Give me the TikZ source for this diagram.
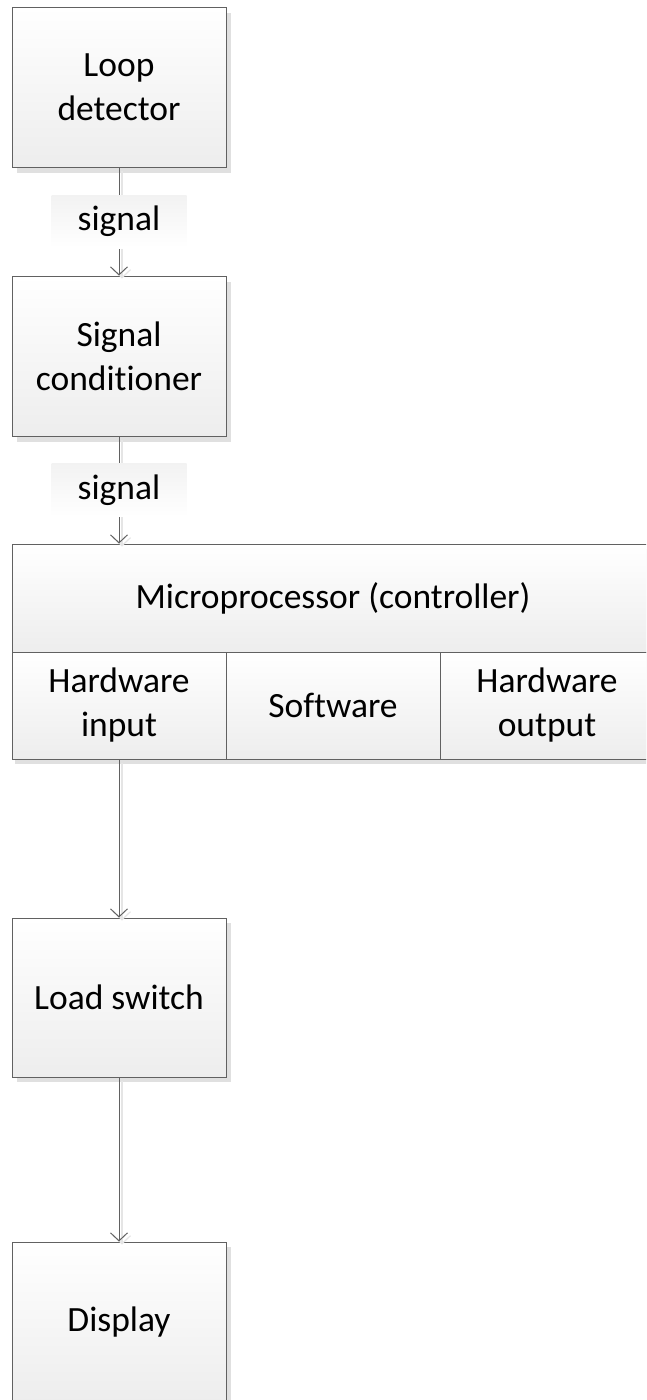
\documentclass[tikz,border=0pt]{standalone}
\usepackage{fontspec}
\setmainfont[RawFeature={-liga;-clig;-calt;-dlig}]{Carlito}
\usetikzlibrary{arrows.meta,positioning}

\tikzset{
  block/.style={draw=black!62, line width=1pt, top color=white, bottom color=black!7,
    align=center, inner sep=0pt, minimum width=214pt, minimum height=160pt,
    font=\fontsize{35.5}{44}\selectfont},
  cell/.style={block, minimum height=107pt},
  blockshadow/.style={fill=black!12, draw=none},
  tag/.style={top color=black!5, bottom color=white, inner sep=0pt,
    minimum width=135pt, minimum height=53pt, font=\fontsize{35.5}{44}\selectfont},
  link/.style={draw=black!62, line width=1pt,
    -{Straight Barb[length=8pt,width=17pt,line width=1pt]}},
  linkshadow/.style={draw=black!10, line width=1.2pt,
    -{Straight Barb[length=8pt,width=17pt,line width=1.2pt]}},
}

\begin{document}
\begin{tikzpicture}[x=1pt,y=-1pt]
\useasboundingbox (0,0) rectangle (646,1400);
\clip (0,0) rectangle (646,1400);

% drop shadows under the blocks
\fill[blockshadow] (17,13) rectangle (231,173);
\fill[blockshadow] (17,282) rectangle (231,442);
\fill[blockshadow] (15,549) rectangle (659,764);
\fill[blockshadow] (17,923) rectangle (231,1082);
\fill[blockshadow] (17,1247) rectangle (231,1407);

% blocks
\node[block] (loop) at (119,87) {Loop\\detector};
\node[block] (cond) at (119,356) {Signal\\conditioner};
\node[block, minimum width=642pt, minimum height=108pt] (mcu) at (333,598) {Microprocessor (controller)};
\node[cell] (hwin) at (119,705.5) {Hardware\\input};
\node[cell] (sw) at (333,705.5) {Software};
\node[cell] (hwout) at (547,705.5) {Hardware\\output};
\node[block, minimum height=159pt] (load) at (119,997.5) {Load switch};
\node[block] (disp) at (119,1322) {Display};

% connector shadows
\draw[linkshadow] ([xshift=3pt,yshift=-3pt]loop.south) -- ([xshift=3pt,yshift=-3pt]cond.north);
\draw[linkshadow] ([xshift=3pt,yshift=-3pt]cond.south) -- ([xshift=3pt,yshift=-3pt]mcu.north -| cond.south);
\draw[linkshadow] ([xshift=3pt,yshift=-3pt]hwin.south) -- ([xshift=3pt,yshift=-3pt]load.north);
\draw[linkshadow] ([xshift=3pt,yshift=-3pt]load.south) -- ([xshift=3pt,yshift=-3pt]disp.north);

% connectors
\draw[link] (loop.south) -- (cond.north)
  node[tag, pos=0.5] (sig1) {signal};
\coordinate (mcuin) at (mcu.north -| cond.south);
\draw[link] (cond.south) -- (mcuin)
  node[tag, pos=0.5] (sig2) {signal};
\draw[link] (hwin.south) -- (load.north);
\draw[link] (load.south) -- (disp.north);
\end{tikzpicture}
\end{document}
